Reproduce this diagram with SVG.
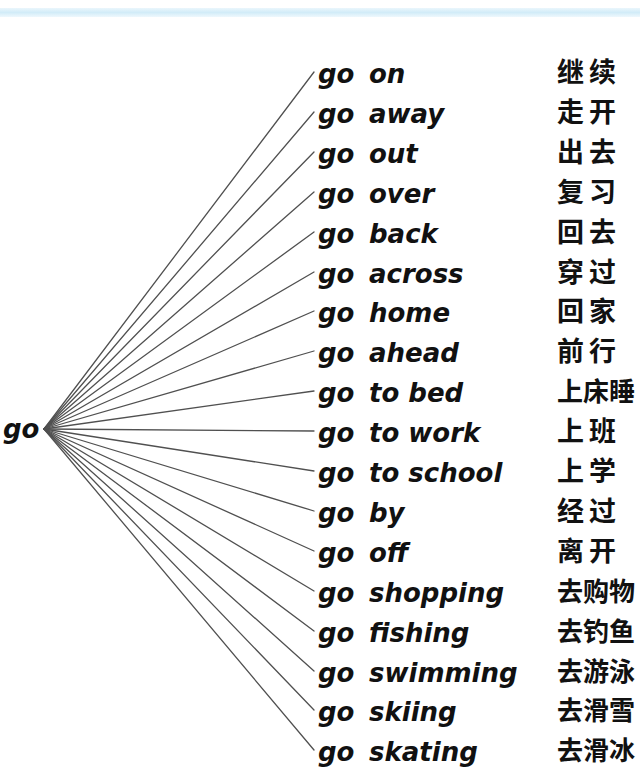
<svg xmlns="http://www.w3.org/2000/svg" width="640" height="779" viewBox="0 0 640 779">
<defs>
<style>
.en{font-family:"DejaVu Sans","Liberation Sans",sans-serif;font-size:26px;font-weight:bold;font-style:italic;fill:#111}
.zh{font-family:"Noto Sans CJK SC","Noto Sans CJK TC",sans-serif;font-size:27px;font-weight:bold;fill:#111;letter-spacing:5px}
.zh3{font-family:"Noto Sans CJK SC","Noto Sans CJK TC",sans-serif;font-size:26px;font-weight:bold;fill:#111;letter-spacing:0px}
.ln{stroke:#505050;stroke-width:1.3;fill:none;stroke-linecap:round}
</style>
<linearGradient id="bar" x1="0" y1="0" x2="0" y2="1">
<stop offset="0" stop-color="#eaf6fc"/>
<stop offset="0.5" stop-color="#d2ecf8"/>
<stop offset="1" stop-color="#eef8fd"/>
</linearGradient>
</defs>
<rect width="640" height="779" fill="#fff"/>
<rect x="0" y="8" width="640" height="9" fill="url(#bar)"/>
<g id="connectors">
<line class="ln" x1="44" y1="429" x2="314" y2="72"/>
<line class="ln" x1="44" y1="429" x2="314" y2="112"/>
<line class="ln" x1="44" y1="429" x2="314" y2="152"/>
<line class="ln" x1="44" y1="429" x2="314" y2="192"/>
<line class="ln" x1="44" y1="429" x2="314" y2="232"/>
<line class="ln" x1="44" y1="429" x2="314" y2="272"/>
<line class="ln" x1="44" y1="429" x2="314" y2="311"/>
<line class="ln" x1="44" y1="429" x2="314" y2="351"/>
<line class="ln" x1="44" y1="429" x2="314" y2="391"/>
<line class="ln" x1="44" y1="429" x2="314" y2="431"/>
<line class="ln" x1="44" y1="429" x2="314" y2="471"/>
<line class="ln" x1="44" y1="429" x2="314" y2="511"/>
<line class="ln" x1="44" y1="429" x2="314" y2="551"/>
<line class="ln" x1="44" y1="429" x2="314" y2="591"/>
<line class="ln" x1="44" y1="429" x2="314" y2="631"/>
<line class="ln" x1="44" y1="429" x2="314" y2="671"/>
<line class="ln" x1="44" y1="429" x2="314" y2="710"/>
<line class="ln" x1="44" y1="429" x2="314" y2="750"/>
</g>
<g id="root"><text class="en" x="3" y="438">go</text></g>
<g id="n1"><text class="en" x="318" y="83">go</text><text class="en" x="369" y="83">on</text><text class="zh" x="557" y="82">继续</text></g>
<g id="n2"><text class="en" x="318" y="123">go</text><text class="en" x="369" y="123">away</text><text class="zh" x="557" y="122">走开</text></g>
<g id="n3"><text class="en" x="318" y="163">go</text><text class="en" x="369" y="163">out</text><text class="zh" x="557" y="162">出去</text></g>
<g id="n4"><text class="en" x="318" y="203">go</text><text class="en" x="369" y="203">over</text><text class="zh" x="557" y="202">复习</text></g>
<g id="n5"><text class="en" x="318" y="243">go</text><text class="en" x="369" y="243">back</text><text class="zh" x="557" y="242">回去</text></g>
<g id="n6"><text class="en" x="318" y="283">go</text><text class="en" x="369" y="283">across</text><text class="zh" x="557" y="282">穿过</text></g>
<g id="n7"><text class="en" x="318" y="322">go</text><text class="en" x="369" y="322">home</text><text class="zh" x="557" y="321">回家</text></g>
<g id="n8"><text class="en" x="318" y="362">go</text><text class="en" x="369" y="362">ahead</text><text class="zh" x="557" y="361">前行</text></g>
<g id="n9"><text class="en" x="318" y="402">go</text><text class="en" x="369" y="402">to bed</text><text class="zh3" x="557" y="401">上床睡</text></g>
<g id="n10"><text class="en" x="318" y="442">go</text><text class="en" x="369" y="442">to work</text><text class="zh" x="557" y="441">上班</text></g>
<g id="n11"><text class="en" x="318" y="482">go</text><text class="en" x="369" y="482">to school</text><text class="zh" x="557" y="481">上学</text></g>
<g id="n12"><text class="en" x="318" y="522">go</text><text class="en" x="369" y="522">by</text><text class="zh" x="557" y="521">经过</text></g>
<g id="n13"><text class="en" x="318" y="562">go</text><text class="en" x="369" y="562">off</text><text class="zh" x="557" y="561">离开</text></g>
<g id="n14"><text class="en" x="318" y="602">go</text><text class="en" x="369" y="602">shopping</text><text class="zh3" x="557" y="601">去购物</text></g>
<g id="n15"><text class="en" x="318" y="642">go</text><text class="en" x="369" y="642">fishing</text><text class="zh3" x="557" y="641">去钓鱼</text></g>
<g id="n16"><text class="en" x="318" y="682">go</text><text class="en" x="369" y="682">swimming</text><text class="zh3" x="557" y="681">去游泳</text></g>
<g id="n17"><text class="en" x="318" y="721">go</text><text class="en" x="369" y="721">skiing</text><text class="zh3" x="557" y="720">去滑雪</text></g>
<g id="n18"><text class="en" x="318" y="761">go</text><text class="en" x="369" y="761">skating</text><text class="zh3" x="557" y="760">去滑冰</text></g>
</svg>
